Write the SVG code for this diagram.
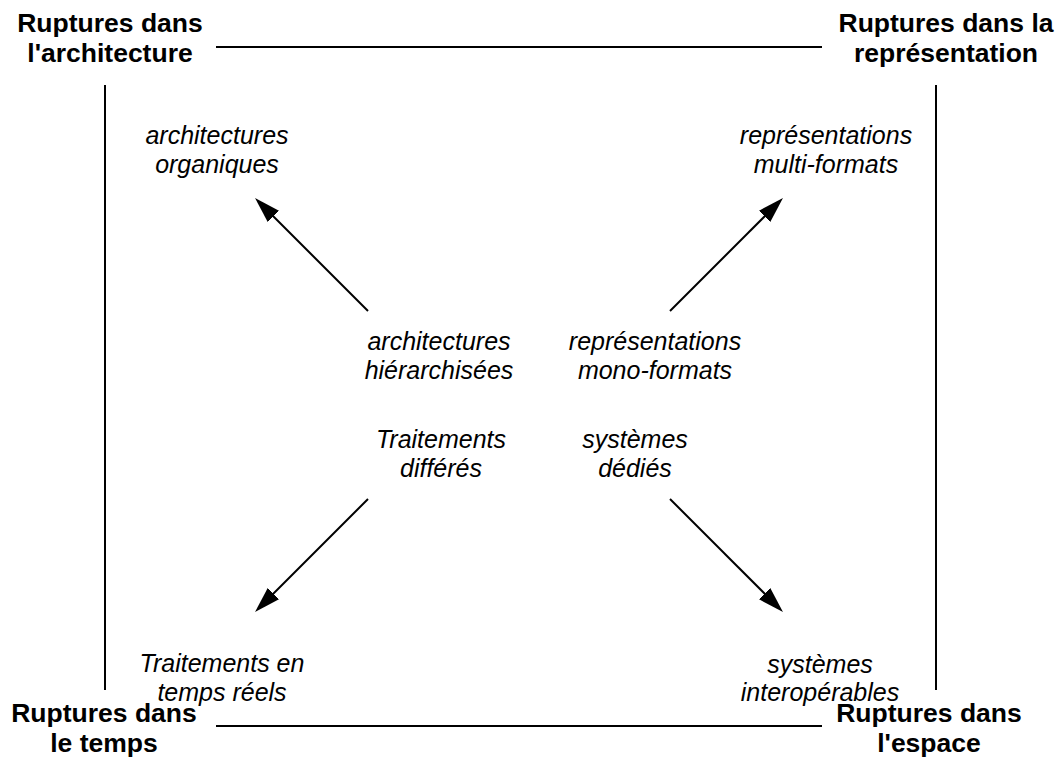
<svg xmlns="http://www.w3.org/2000/svg" width="1061" height="758" viewBox="0 0 1061 758">
  <style>
    .corner { font-family: "Liberation Sans", Arial, sans-serif; font-weight: bold; font-size: 26.5px; fill: #000; text-anchor: middle; }
    .item { font-family: "Liberation Sans", Arial, sans-serif; font-style: italic; font-size: 25px; fill: #000; text-anchor: middle; }
    .frame { stroke: #000; stroke-width: 2; fill: none; }
    .arrow { stroke: #000; stroke-width: 2; fill: none; marker-end: url(#head); }
  </style>
  <defs>
    <marker id="head" markerUnits="userSpaceOnUse" viewBox="0 0 26 16" refX="14" refY="8" markerWidth="26" markerHeight="16" orient="auto">
      <path d="M0,0 L26,8 L0,16 Z" fill="#000"/>
    </marker>
  </defs>
  <rect width="1061" height="758" fill="#fff"/>

  <!-- frame and arrows -->
  <g id="connectors">
    <line class="frame" x1="216" y1="47" x2="822" y2="47"/>
    <line class="frame" x1="216" y1="726" x2="822" y2="726"/>
    <line class="frame" x1="105" y1="85" x2="105" y2="690"/>
    <line class="frame" x1="936" y1="85" x2="936" y2="690"/>
    <line class="arrow" x1="368" y1="311" x2="263.5" y2="206.5"/>
    <line class="arrow" x1="670" y1="311" x2="774.5" y2="206.5"/>
    <line class="arrow" x1="368" y1="499" x2="263.5" y2="603.5"/>
    <line class="arrow" x1="670" y1="499" x2="774.5" y2="603.5"/>
  </g>

  <!-- corner headings -->
  <g id="rupture-architecture">
    <text class="corner" x="110" y="32">Ruptures dans</text>
    <text class="corner" x="110" y="62">l'architecture</text>
  </g>
  <g id="rupture-representation">
    <text class="corner" x="946" y="32">Ruptures dans la</text>
    <text class="corner" x="946" y="62">représentation</text>
  </g>
  <g id="rupture-temps">
    <text class="corner" x="104" y="722">Ruptures dans</text>
    <text class="corner" x="104" y="752">le temps</text>
  </g>
  <g id="rupture-espace">
    <text class="corner" x="929" y="722">Ruptures dans</text>
    <text class="corner" x="929" y="752">l'espace</text>
  </g>

  <!-- outer states -->
  <g id="architectures-organiques">
    <text class="item" x="217" y="144">architectures</text>
    <text class="item" x="217" y="173">organiques</text>
  </g>
  <g id="representations-multi-formats">
    <text class="item" x="826" y="144">représentations</text>
    <text class="item" x="826" y="173">multi-formats</text>
  </g>
  <g id="traitements-temps-reels">
    <text class="item" x="222" y="672">Traitements en</text>
    <text class="item" x="222" y="701">temps réels</text>
  </g>
  <g id="systemes-interoperables">
    <text class="item" x="820" y="673">systèmes</text>
    <text class="item" x="820" y="701">interopérables</text>
  </g>

  <!-- inner states -->
  <g id="architectures-hierarchisees">
    <text class="item" x="439" y="350">architectures</text>
    <text class="item" x="439" y="379">hiérarchisées</text>
  </g>
  <g id="representations-mono-formats">
    <text class="item" x="655" y="350">représentations</text>
    <text class="item" x="655" y="379">mono-formats</text>
  </g>
  <g id="traitements-differes">
    <text class="item" x="441" y="448">Traitements</text>
    <text class="item" x="441" y="477">différés</text>
  </g>
  <g id="systemes-dedies">
    <text class="item" x="635" y="448">systèmes</text>
    <text class="item" x="635" y="477">dédiés</text>
  </g>
</svg>
